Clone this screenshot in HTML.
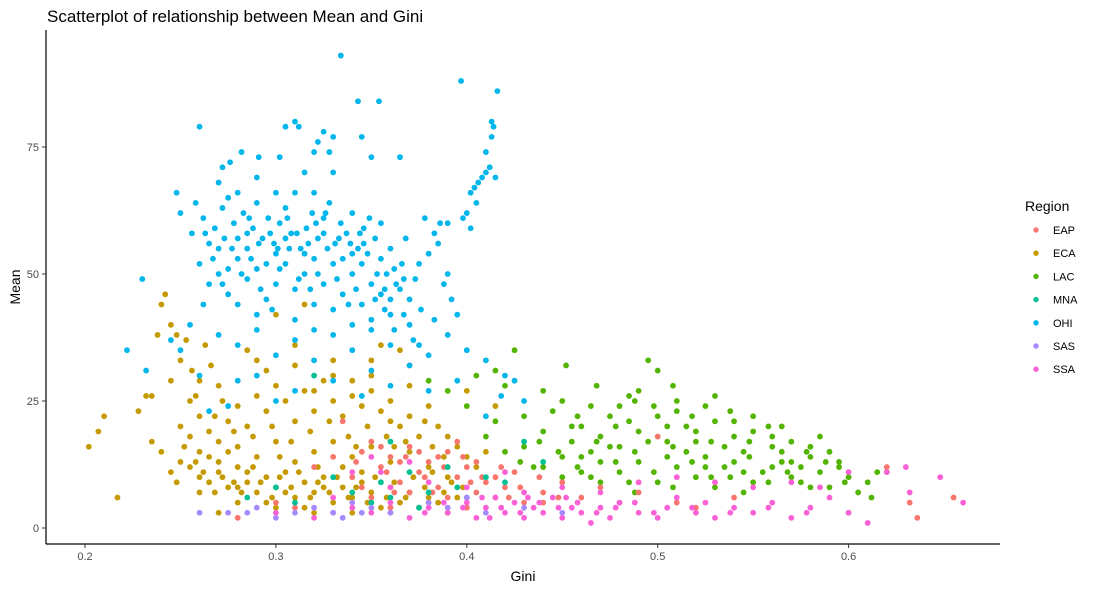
<!DOCTYPE html>
<html><head><meta charset="utf-8"><style>
body{margin:0;background:#fff;font-family:"Liberation Sans",sans-serif;}
svg{display:block}
</style></head><body>
<svg id="chart" width="1094" height="591">
<text x="47" y="22" font-size="17" fill="#000">Scatterplot of relationship between Mean and Gini</text>
<g id="plot"></g>
<line x1="46" y1="30" x2="46" y2="544" stroke="#000" stroke-width="1.2"/>
<line x1="46" y1="544" x2="1000" y2="544" stroke="#000" stroke-width="1.2"/>
<g id="xticks"></g>
<g id="yticks"></g>
<text x="523" y="581" font-size="14" text-anchor="middle">Gini</text>
<text transform="translate(20,287) rotate(-90)" font-size="14" text-anchor="middle">Mean</text>
<g id="legend">
<text x="1025" y="211" font-size="14">Region</text>
</g>
</svg>
<script>
const xTicks=[0.2,0.3,0.4,0.5,0.6];
const yTicks=[0,25,50,75];
const regions=["EAP","ECA","LAC","MNA","OHI","SAS","SSA"];
const colors=["#F8766D","#C49A00","#53B400","#00C094","#00B6EB","#A58AFF","#FB61D7"];
const eca=[[0.202,16],[0.207,19],[0.21,22],[0.217,6],[0.228,23],[0.232,26],[0.235,17],[0.238,38],[0.24,44],[0.242,46],[0.245,40],[0.248,38],[0.25,33],[0.253,37],[0.256,31],[0.26,29],[0.263,36],[0.266,32],[0.27,28],[0.272,25],[0.24,15],[0.245,11],[0.25,13],[0.255,12],[0.26,10],[0.265,14],[0.27,11],[0.275,8],[0.28,12],[0.285,9],[0.29,7],[0.295,10],[0.3,8],[0.305,11],[0.31,6],[0.315,9],[0.32,7],[0.325,10],[0.33,5],[0.335,8],[0.34,6],[0.345,9],[0.35,7],[0.355,4],[0.36,8],[0.365,5],[0.37,7],[0.375,4],[0.38,6],[0.385,5],[0.39,3],[0.395,6],[0.4,4],[0.25,20],[0.255,18],[0.26,22],[0.265,19],[0.27,17],[0.275,21],[0.28,24],[0.285,20],[0.29,26],[0.295,23],[0.3,28],[0.305,25],[0.31,21],[0.315,27],[0.32,23],[0.325,29],[0.33,25],[0.335,22],[0.34,26],[0.345,24],[0.35,27],[0.355,23],[0.36,25],[0.365,20],[0.37,22],[0.375,18],[0.38,24],[0.385,20],[0.39,18],[0.395,16],[0.4,14],[0.405,12],[0.41,15],[0.415,24],[0.4,27],[0.26,15],[0.27,13],[0.28,16],[0.29,14],[0.3,17],[0.31,13],[0.32,15],[0.33,17],[0.34,14],[0.35,16],[0.36,13],[0.37,15],[0.38,12],[0.39,10],[0.3,4],[0.32,3],[0.34,3],[0.28,5],[0.27,3],[0.36,3],[0.295,31],[0.31,32],[0.33,33],[0.35,30],[0.37,32],[0.365,35],[0.355,36],[0.315,44],[0.3,42],[0.285,35],[0.245,29],[0.235,26],[0.26,7],[0.28,8],[0.265,9],[0.285,11],[0.305,7],[0.325,8],[0.345,11],[0.255,25],[0.275,15],[0.295,5],[0.315,4],[0.335,12],
[0.248,9],[0.252,16],[0.258,13],[0.262,11],[0.268,7],[0.272,10],[0.278,9],[0.282,7],[0.288,12],[0.292,9],[0.298,6],[0.302,10],[0.308,8],[0.312,11],[0.318,6],[0.322,9],[0.328,7],[0.332,10],[0.338,6],[0.342,8],[0.348,5],[0.352,10],[0.358,6],[0.362,9],[0.368,6],[0.372,10],[0.378,8],[0.382,11],[0.388,7],[0.392,9],[0.398,8],[0.288,18],[0.298,20],[0.308,17],[0.318,19],[0.328,21],[0.338,18],[0.348,20],[0.358,18],[0.368,17],[0.378,21],[0.388,14],[0.278,19],[0.268,22],[0.258,26],[0.302,14],[0.322,12],[0.342,16],[0.362,16],[0.382,16],[0.29,33],[0.31,36],[0.33,30],[0.35,33],[0.37,28],[0.32,27],[0.34,29],[0.36,21]];
const lac=[[0.38,29],[0.39,27],[0.4,24],[0.405,30],[0.41,18],[0.415,21],[0.42,28],[0.425,35],[0.43,16],[0.435,12],[0.44,19],[0.445,23],[0.45,14],[0.452,32],[0.455,17],[0.46,20],[0.465,24],[0.47,13],[0.475,22],[0.48,16],[0.485,26],[0.49,19],[0.495,33],[0.5,31],[0.505,14],[0.51,25],[0.515,20],[0.52,17],[0.525,24],[0.53,21],[0.535,12],[0.54,18],[0.545,15],[0.55,19],[0.555,11],[0.56,16],[0.565,13],[0.57,17],[0.575,9],[0.58,14],[0.585,11],[0.59,8],[0.595,12],[0.6,10],[0.605,7],[0.61,9],[0.615,11],[0.6,3],[0.44,12],[0.45,10],[0.46,14],[0.47,9],[0.48,11],[0.49,13],[0.5,9],[0.51,12],[0.52,10],[0.53,8],[0.54,13],[0.55,9],[0.56,12],[0.57,10],[0.58,8],[0.46,11],[0.48,24],[0.5,22],[0.52,19],[0.54,21],[0.56,18],[0.58,16],[0.49,27],[0.51,23],[0.53,26],[0.55,22],[0.57,13],[0.59,15],[0.43,22],[0.47,18],[0.45,25],[0.44,27],[0.42,15],[0.415,31],[0.475,16],[0.505,17],[0.525,14],[0.545,11],[0.565,20],[0.585,18],[0.535,16],[0.515,15],[0.495,17],[0.465,15],[0.455,20],[0.485,21],[0.505,20],[0.525,12],[0.545,7],[0.565,15],[0.575,12],[0.595,13],[0.485,9],[0.465,10],
[0.448,15],[0.458,12],[0.468,17],[0.478,13],[0.488,15],[0.498,11],[0.508,16],[0.518,13],[0.528,17],[0.538,10],[0.548,14],[0.558,9],[0.568,11],[0.578,15],[0.588,13],[0.598,9],[0.458,22],[0.478,20],[0.498,24],[0.518,22],[0.538,23],[0.558,20],[0.528,10],[0.508,8],[0.488,7],[0.548,17],[0.438,17],[0.428,13],[0.468,28],[0.488,25],[0.508,28],[0.62,11],[0.612,6]];
const eap=[[0.28,2],[0.3,5],[0.32,12],[0.33,14],[0.335,21],[0.34,10],[0.345,15],[0.35,17],[0.355,12],[0.36,14],[0.365,9],[0.37,16],[0.375,11],[0.38,13],[0.385,8],[0.39,15],[0.395,10],[0.4,12],[0.405,7],[0.41,9],[0.415,6],[0.42,8],[0.425,11],[0.43,5],[0.44,7],[0.45,9],[0.46,6],[0.47,8],[0.48,5],[0.49,7],[0.5,18],[0.51,5],[0.52,4],[0.54,6],[0.35,6],[0.36,4],[0.37,7],[0.38,5],[0.39,6],[0.4,4],[0.33,3],[0.31,4],[0.345,8],[0.355,16],[0.365,13],[0.375,15],[0.385,14],[0.395,17],[0.405,13],[0.415,10],[0.632,5],[0.636,2],[0.655,6],[0.62,12],[0.44,5],
[0.358,11],[0.368,14],[0.378,10],[0.388,12],[0.398,14],[0.408,10],[0.418,12],[0.428,8],[0.438,10],[0.448,6],[0.362,7],[0.382,7],[0.402,9],[0.422,6],[0.342,13]];
const mna=[[0.285,6],[0.3,8],[0.32,30],[0.33,10],[0.34,7],[0.35,5],[0.355,9],[0.36,6],[0.37,11],[0.38,7],[0.39,12],[0.395,8],[0.4,6],[0.41,10],[0.42,9],[0.43,17],[0.44,13],[0.36,17],[0.31,5],[0.375,4]];
const ohi=[[0.334,93],[0.397,88],[0.416,86],[0.343,84],[0.354,84],[0.413,80],[0.26,79],[0.31,80],[0.312,79],[0.305,79],[0.325,78],[0.33,77],[0.322,76],[0.328,74],[0.282,74],[0.291,73],[0.272,71],[0.276,72],[0.345,77],[0.35,73],[0.365,73],[0.32,74],[0.302,73],[0.398,61],[0.4,62],[0.402,66],[0.404,67],[0.406,68],[0.408,69],[0.41,70],[0.412,71],[0.41,74],[0.413,77],[0.414,79],[0.415,69],[0.402,59],[0.405,64],[0.248,66],[0.25,62],[0.256,58],[0.258,64],[0.262,61],[0.265,56],[0.27,55],[0.268,59],[0.272,63],[0.275,65],[0.278,60],[0.28,57],[0.283,62],[0.285,55],[0.288,59],[0.29,64],[0.293,57],[0.296,61],[0.299,56],[0.302,60],[0.305,63],[0.308,58],[0.31,66],[0.313,55],[0.316,59],[0.319,62],[0.322,57],[0.325,61],[0.328,64],[0.331,56],[0.334,60],[0.337,58],[0.34,62],[0.343,55],[0.346,59],[0.349,61],[0.352,57],[0.355,53],[0.358,50],[0.36,55],[0.363,48],[0.366,52],[0.37,45],[0.373,49],[0.376,43],[0.38,54],[0.383,58],[0.386,60],[0.39,50],[0.26,52],[0.265,48],[0.27,50],[0.275,46],[0.28,53],[0.285,49],[0.29,51],[0.295,45],[0.3,48],[0.305,52],[0.31,47],[0.315,50],[0.32,44],[0.325,48],[0.33,52],[0.335,46],[0.34,50],[0.345,44],[0.35,48],[0.355,46],[0.36,42],[0.365,47],[0.3,54],[0.32,53],[0.34,54],[0.28,44],[0.29,42],[0.31,41],[0.33,43],[0.35,41],[0.37,40],[0.23,49],[0.222,35],[0.232,31],[0.245,37],[0.255,40],[0.262,44],[0.27,38],[0.28,36],[0.29,39],[0.3,34],[0.31,37],[0.32,33],[0.33,38],[0.34,35],[0.35,39],[0.36,36],[0.37,32],[0.38,34],[0.39,38],[0.4,35],[0.41,33],[0.42,30],[0.418,26],[0.41,22],[0.36,28],[0.35,31],[0.345,26],[0.33,29],[0.31,27],[0.29,30],[0.275,24],[0.265,23],[0.28,29],[0.3,25],[0.26,30],[0.25,35],[0.38,27],[0.375,36],[0.34,40],[0.32,39],[0.395,29],[0.425,29],[0.43,25],[0.385,56],[0.388,48],[0.392,45],[0.395,42],[0.39,60],[0.378,61],[0.375,52],[0.368,57],[0.28,66],[0.3,66],[0.32,66],[0.315,70],[0.33,70],[0.29,69],[0.27,68],[0.305,57],[0.315,54],[0.335,53],[0.345,52],[0.325,58],[0.295,52],[0.285,58],[0.275,51],[0.355,60],[0.36,45],
[0.267,53],[0.273,57],[0.277,55],[0.287,53],[0.291,56],[0.297,58],[0.301,55],[0.307,55],[0.311,58],[0.317,56],[0.321,60],[0.327,55],[0.333,57],[0.339,56],[0.344,58],[0.348,54],[0.353,50],[0.357,47],[0.362,51],[0.367,49],[0.272,48],[0.282,50],[0.292,47],[0.302,51],[0.312,49],[0.322,50],[0.332,49],[0.342,47],[0.352,45],[0.362,39],[0.263,58],[0.286,61],[0.306,61],[0.326,62],[0.346,56],[0.318,47],[0.338,44],[0.298,43],[0.357,43],[0.367,42],[0.372,37],[0.383,41]];
const sas=[[0.26,3],[0.275,3],[0.285,3],[0.29,4],[0.3,2],[0.31,3],[0.32,4],[0.33,3],[0.335,2],[0.34,5],[0.345,3],[0.35,4],[0.36,3],[0.38,5],[0.39,4],[0.4,6],[0.41,3],[0.43,4],[0.45,3]];
const ssa=[[0.3,3],[0.32,2],[0.34,4],[0.35,3],[0.36,5],[0.37,2],[0.38,4],[0.39,3],[0.4,5],[0.405,2],[0.41,4],[0.415,6],[0.42,3],[0.425,5],[0.43,2],[0.435,4],[0.44,3],[0.445,6],[0.45,2],[0.455,4],[0.46,3],[0.465,1],[0.47,4],[0.475,2],[0.48,5],[0.49,3],[0.5,2],[0.505,4],[0.51,6],[0.52,3],[0.525,5],[0.53,2],[0.54,4],[0.55,3],[0.56,5],[0.57,2],[0.58,4],[0.59,6],[0.6,3],[0.61,1],[0.62,11],[0.63,12],[0.632,7],[0.648,10],[0.66,5],[0.6,11],[0.585,8],[0.57,9],[0.55,8],[0.53,9],[0.51,10],[0.49,9],[0.47,7],[0.45,8],[0.43,7],[0.42,11],[0.4,8],[0.38,9],[0.36,8],[0.355,11],[0.37,13],[0.35,14],[0.33,6],[0.34,11],
[0.378,3],[0.388,5],[0.398,4],[0.408,6],[0.418,4],[0.428,3],[0.438,5],[0.448,4],[0.458,5],[0.468,3],[0.478,4],[0.488,5],[0.498,3],[0.518,4],[0.538,3],[0.558,4],[0.578,3],[0.412,2],[0.432,6],[0.452,6]];
const NS="http://www.w3.org/2000/svg";
function xs(v){return 85+(v-0.2)*1909;}
function ys(v){return 528-v*5.08;}
function mk(t,a){const e=document.createElementNS(NS,t);for(const k in a)e.setAttribute(k,a[k]);return e;}
const plot=document.getElementById('plot');
const series=[[eca,1],[lac,2],[eap,0],[mna,3],[ohi,4],[sas,5],[ssa,6]];
series.forEach(([arr,ci])=>{arr.forEach(p=>{
 const c=mk('circle',{cx:xs(p[0]),cy:ys(p[1]),r:2.9,fill:colors[ci]});
 
 
 plot.appendChild(c);});});
const xg=document.getElementById('xticks');
xTicks.forEach(v=>{
 const l=mk('line',{x1:xs(v),x2:xs(v),y1:544,y2:548,stroke:'#333'});
 
 
 xg.appendChild(l);
 const t=mk('text',{x:xs(v),y:560,'font-size':11,'text-anchor':'middle',fill:'#4d4d4d'});
 t.textContent=v.toFixed(1);
 
 
 xg.appendChild(t);});
const yg=document.getElementById('yticks');
yTicks.forEach(v=>{
 const l=mk('line',{x1:42,x2:46,y1:ys(v),y2:ys(v),stroke:'#333'});
 
 
 yg.appendChild(l);
 const t=mk('text',{x:39,y:ys(v)+4,'font-size':11,'text-anchor':'end',fill:'#4d4d4d'});
 t.textContent=v;
 
 
 yg.appendChild(t);});
const lg=document.getElementById('legend');
regions.forEach((r,i)=>{
 const y=230+i*23.2;
 const c=mk('circle',{cx:1036,cy:y,r:2.7,fill:colors[i]});
 
 
 lg.appendChild(c);
 const t=mk('text',{x:1053,y:y+4,'font-size':11,fill:'#000'});
 t.textContent=r;
 
 
 lg.appendChild(t);});
</script>
</body></html>
